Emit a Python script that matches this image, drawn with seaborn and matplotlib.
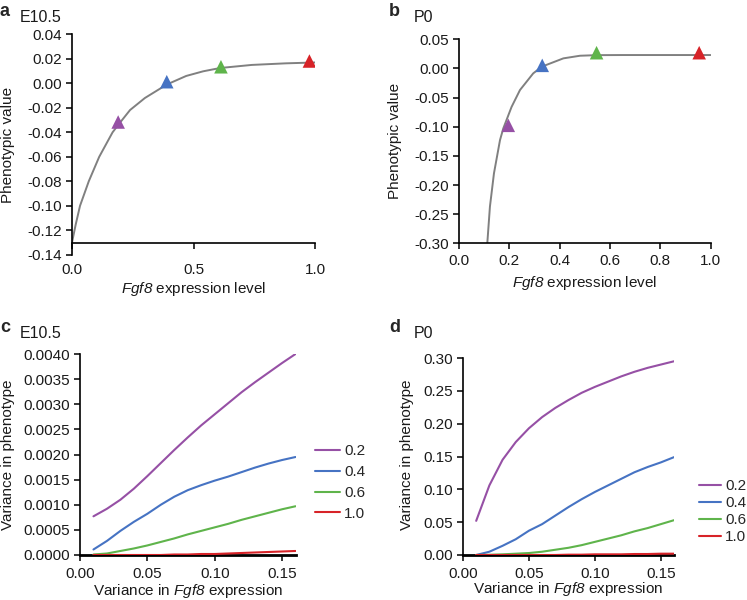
import pandas as pd
import matplotlib
matplotlib.use("Agg")
import matplotlib.pyplot as plt
import seaborn as sns
from matplotlib.ticker import FormatStrFormatter, MultipleLocator

# ==========================
# Data
# ==========================
# panel a: E10.5 curve
a_x = [0.0, 0.015, 0.033, 0.069, 0.112, 0.167, 0.20, 0.239, 0.30, 0.39,
       0.47, 0.54, 0.61, 0.74, 0.88, 1.0]
a_y = [-0.130, -0.1155, -0.100, -0.080, -0.060, -0.040, -0.0315, -0.0218,
       -0.012, -0.001, 0.006, 0.0098, 0.0125, 0.0150, 0.0163, 0.0170]
a_mark_x = [0.19, 0.39, 0.613, 0.977]
a_mark_y = [-0.0316, 0.0013, 0.0135, 0.0182]

# panel b: P0 curve
b_x = [0.1125, 0.123, 0.139, 0.163, 0.176, 0.209, 0.2425, 0.295, 0.329,
       0.415, 0.481, 0.547, 0.65, 1.0]
b_y = [-0.300, -0.237, -0.180, -0.123, -0.103, -0.066, -0.037, -0.0085, 0.003,
       0.0173, 0.0218, 0.0228, 0.023, 0.023]
b_mark_x = [0.196, 0.331, 0.547, 0.955]
b_mark_y = [-0.0976, 0.0053, 0.027, 0.027]

levels = ["0.2", "0.4", "0.6", "1.0"]
colors = ["#9650a5", "#4673c3", "#5fb44b", "#d72328"]

# panels c, d: variance curves
var_x = [0.01, 0.02, 0.03, 0.04, 0.05, 0.06, 0.07, 0.08, 0.09, 0.10,
         0.11, 0.12, 0.13, 0.14, 0.15, 0.16]
c_02 = [0.00077, 0.00092, 0.00110, 0.00132, 0.00157, 0.00183, 0.00209, 0.00234,
        0.00258, 0.00280, 0.00302, 0.00324, 0.00344, 0.00363, 0.00382, 0.00400]
c_04 = [0.00011, 0.00028, 0.00048, 0.00066, 0.00082, 0.00100, 0.00116, 0.00129,
        0.00139, 0.00148, 0.00156, 0.00165, 0.00174, 0.00182, 0.00189, 0.00195]
c_06 = [0.00001, 0.00003, 0.00008, 0.00013, 0.00019, 0.00026, 0.00033, 0.00041,
        0.00048, 0.00055, 0.00062, 0.00070, 0.00077, 0.00084, 0.00091, 0.00097]
c_10 = [0.0, 0.0, 0.0, 0.0, 0.0, 0.0, 0.00001, 0.00001,
        0.00002, 0.00002, 0.00003, 0.00004, 0.00005, 0.00006, 0.00007, 0.00008]

d_02 = [0.052, 0.106, 0.145, 0.172, 0.193, 0.210, 0.224, 0.236,
        0.247, 0.256, 0.264, 0.272, 0.279, 0.285, 0.290, 0.295]
d_04 = [0.0, 0.005, 0.014, 0.024, 0.037, 0.047, 0.060, 0.073,
        0.085, 0.096, 0.106, 0.116, 0.126, 0.134, 0.141, 0.149]
d_06 = [0.0, 0.0003, 0.001, 0.002, 0.003, 0.005, 0.008, 0.011,
        0.015, 0.020, 0.025, 0.030, 0.036, 0.041, 0.047, 0.053]
d_10 = [0.0, 0.0, 0.0, 0.0, 0.0, 0.0, 0.0, 0.0005,
        0.0005, 0.001, 0.001, 0.001, 0.0015, 0.0015, 0.002, 0.002]

# ==========================
# Style
# ==========================
sns.set_style("ticks")
plt.rcParams["font.family"] = ["Liberation Sans", "DejaVu Sans"]
# whole gene name (letters and digit) in italics
plt.rcParams["mathtext.fontset"] = "custom"
plt.rcParams["mathtext.rm"] = "Liberation Sans:italic"
plt.rcParams["mathtext.it"] = "Liberation Sans:italic"
plt.rcParams["axes.unicode_minus"] = True

FS = 11
W, H = 747, 600
fig = plt.figure(figsize=(W / 100, H / 100), dpi=100)


def px_axes(left, top, right, bottom):
    return fig.add_axes([left / W, 1 - bottom / H, (right - left) / W, (bottom - top) / H])


def style_axes(ax, spine_w=1.2, bottom_w=1.2):
    sns.despine(ax=ax)
    ax.spines["left"].set_linewidth(spine_w)
    ax.spines["bottom"].set_linewidth(bottom_w)
    ax.spines["left"].set_color("black")
    ax.spines["bottom"].set_color("black")
    ax.tick_params(direction="out", length=4, width=1.1, color="black",
                   labelsize=FS, labelcolor="#1a1a1a")


def set_labels(ax, xlabel, ylabel, xpos, ypos):
    ax.set_xlabel(xlabel, fontsize=FS, color="#1a1a1a")
    ax.set_ylabel(ylabel, fontsize=FS, color="#1a1a1a")
    ax.xaxis.label.set_va("center")
    ax.yaxis.label.set_va("center")
    ax.xaxis.set_label_coords(*xpos)
    ax.yaxis.set_label_coords(*ypos)


fgf_level = r"$\mathrm{Fgf8}$ expression level"
fgf_var = r"Variance in $\mathrm{Fgf8}$ expression"

# ==========================
# Panel a
# ==========================
ax_a = px_axes(72, 34.3, 315, 254.8)
sns.lineplot(x=a_x, y=a_y, ax=ax_a, color="#808080", linewidth=1.4, estimator=None)
sns.scatterplot(x=a_mark_x, y=a_mark_y, hue=levels, palette=colors, marker="^",
                s=95, linewidth=0, ax=ax_a, legend=False, zorder=3)
ax_a.set_xlim(0, 1.0)
ax_a.set_ylim(-0.14, 0.04)
ax_a.xaxis.set_major_locator(MultipleLocator(0.5))
ax_a.yaxis.set_major_locator(MultipleLocator(0.02))
ax_a.xaxis.set_major_formatter(FormatStrFormatter("%.1f"))
ax_a.yaxis.set_major_formatter(FormatStrFormatter("%.2f"))
style_axes(ax_a)
ax_a.spines["bottom"].set_position(("data", -0.13))
ax_a.tick_params(axis="x", pad=11)
set_labels(ax_a, fgf_level, "Phenotypic value", (0.5, -0.155), (-0.265, 0.5))

# ==========================
# Panel b
# ==========================
ax_b = px_axes(459, 39.3, 710.5, 243.3)
sns.lineplot(x=b_x, y=b_y, ax=ax_b, color="#808080", linewidth=1.4, estimator=None)
sns.scatterplot(x=b_mark_x, y=b_mark_y, hue=levels, palette=colors, marker="^",
                s=95, linewidth=0, ax=ax_b, legend=False, zorder=3)
ax_b.set_xlim(0, 1.0)
ax_b.set_ylim(-0.30, 0.05)
ax_b.xaxis.set_major_locator(MultipleLocator(0.2))
ax_b.yaxis.set_major_locator(MultipleLocator(0.05))
ax_b.xaxis.set_major_formatter(FormatStrFormatter("%.1f"))
ax_b.yaxis.set_major_formatter(FormatStrFormatter("%.2f"))
style_axes(ax_b)
set_labels(ax_b, fgf_level, "Phenotypic value", (0.5, -0.195), (-0.255, 0.5))

# ==========================
# Panels c, d
# ==========================
def long_frame(series):
    rows = []
    for lab, vals in zip(levels, series):
        for xv, yv in zip(var_x, vals):
            rows.append({"x": xv, "y": yv, "level": lab})
    return pd.DataFrame(rows)


df_c = long_frame([c_02, c_04, c_06, c_10])
df_d = long_frame([d_02, d_04, d_06, d_10])
pal = dict(zip(levels, colors))

ax_c = px_axes(80, 354, 295.5, 555)
sns.lineplot(data=df_c, x="x", y="y", hue="level", hue_order=levels, palette=pal,
             linewidth=1.5, ax=ax_c, estimator=None, zorder=3)
ax_c.set_xlim(0, 0.16)
ax_c.set_ylim(0, 0.004)
ax_c.xaxis.set_major_locator(MultipleLocator(0.05))
ax_c.yaxis.set_major_locator(MultipleLocator(0.0005))
ax_c.xaxis.set_major_formatter(FormatStrFormatter("%.2f"))
ax_c.yaxis.set_major_formatter(FormatStrFormatter("%.4f"))
style_axes(ax_c, bottom_w=2.0)
ax_c.tick_params(axis="x", pad=5)
set_labels(ax_c, fgf_var, "Variance in phenotype", (0.5, -0.177), (-0.335, 0.5))
ax_c.legend(loc="center left", bbox_to_anchor=(315 / W, 1 - 482.5 / H),
            bbox_transform=fig.transFigure, frameon=False, fontsize=FS,
            handlelength=1.65, handletextpad=0.25, labelspacing=0.45,
            borderpad=0, borderaxespad=0)

ax_d = px_axes(463, 358, 674, 555)
sns.lineplot(data=df_d, x="x", y="y", hue="level", hue_order=levels, palette=pal,
             linewidth=1.5, ax=ax_d, estimator=None, zorder=3)
ax_d.set_xlim(0, 0.16)
ax_d.set_ylim(0, 0.30)
ax_d.xaxis.set_major_locator(MultipleLocator(0.05))
ax_d.yaxis.set_major_locator(MultipleLocator(0.05))
ax_d.xaxis.set_major_formatter(FormatStrFormatter("%.2f"))
ax_d.yaxis.set_major_formatter(FormatStrFormatter("%.2f"))
style_axes(ax_d, bottom_w=2.0)
ax_d.tick_params(axis="x", pad=5)
set_labels(ax_d, fgf_var, "Variance in phenotype", (0.5, -0.175), (-0.267, 0.51))
ax_d.legend(loc="center left", bbox_to_anchor=(699 / W, 1 - 511.5 / H),
            bbox_transform=fig.transFigure, frameon=False, fontsize=FS,
            handlelength=1.45, handletextpad=0.25, labelspacing=0.2,
            borderpad=0, borderaxespad=0)

# ==========================
# Panel letters and titles
# ==========================
for lx, ly, letter, tx, ty, title in [
    (0, 12, "a", 20, 17, "E10.5"),
    (389, 12, "b", 414, 17, "P0"),
    (0, 327, "c", 20, 334, "E10.5"),
    (389, 327, "d", 414, 334, "P0"),
]:
    fig.text(lx / W, 1 - ly / H, letter, fontsize=13, fontweight="bold",
             va="center", ha="left")
    fig.text(tx / W, 1 - ty / H, title, fontsize=FS + 0.5, va="center",
             ha="left", color="#1a1a1a")

fig.savefig("out.png", dpi=100)
